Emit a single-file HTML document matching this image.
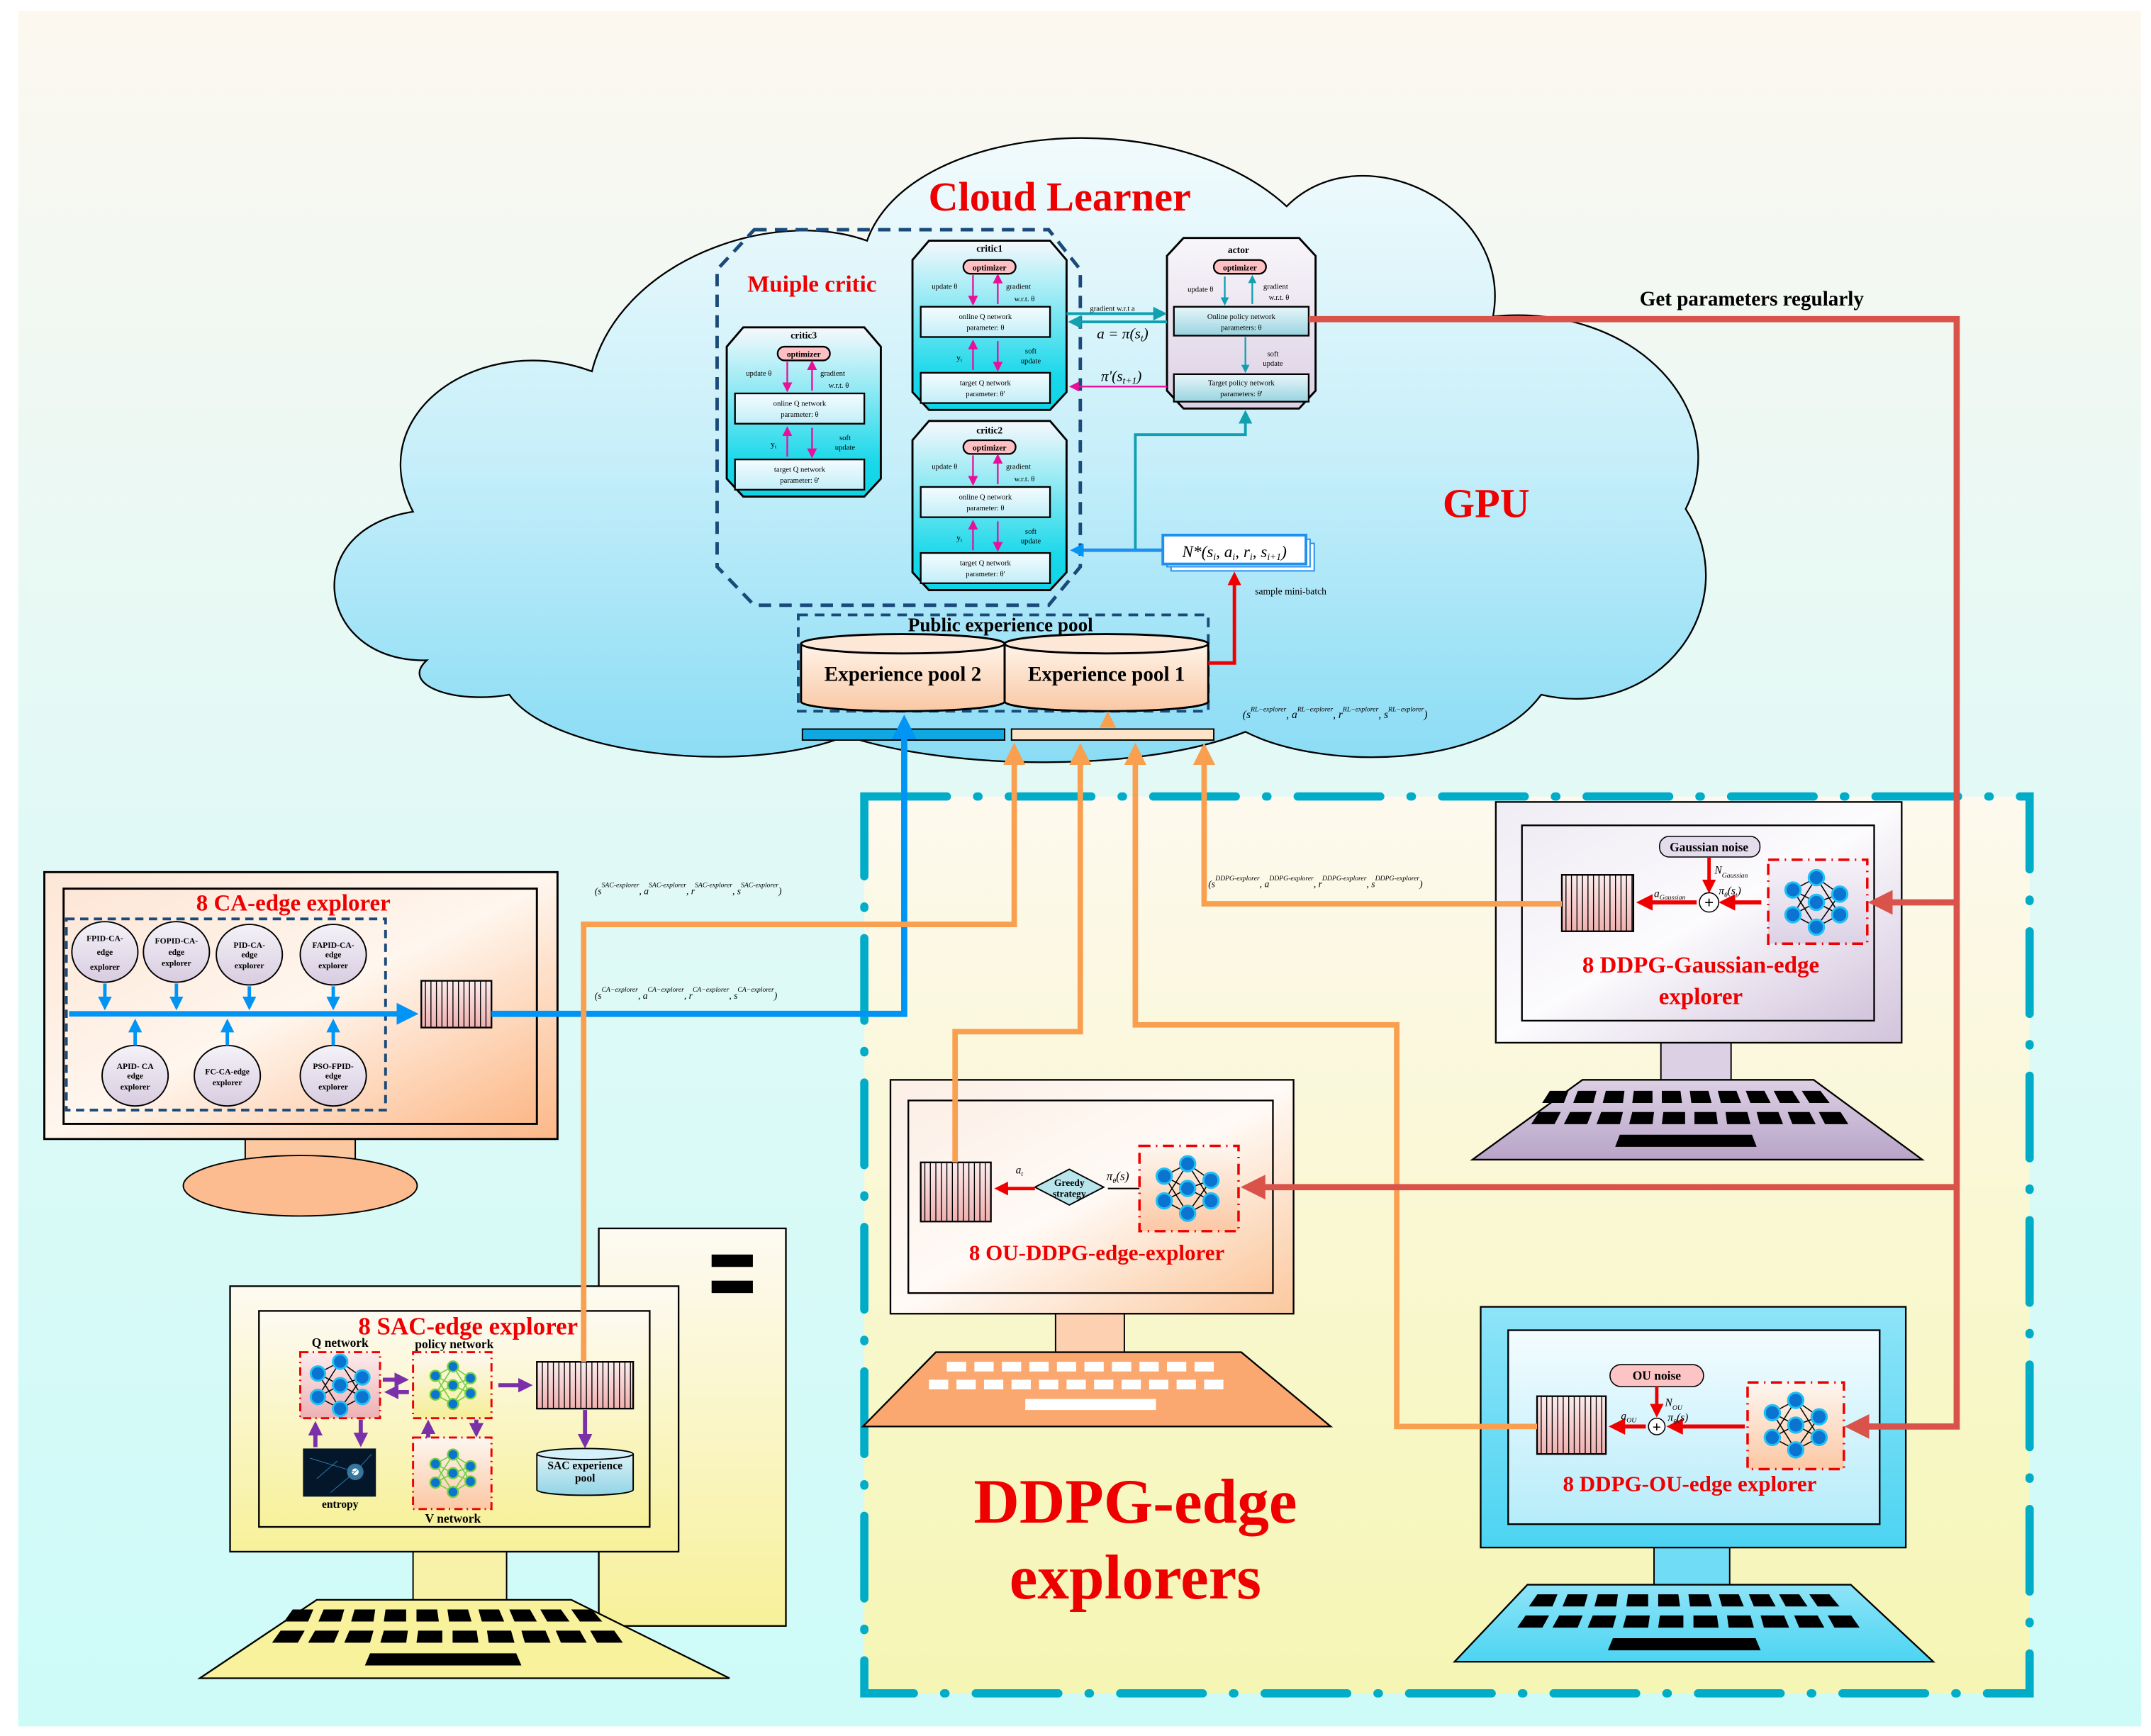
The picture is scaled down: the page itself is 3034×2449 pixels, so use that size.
<!DOCTYPE html>
<html><head><meta charset="utf-8"><style>
html,body{margin:0;padding:0;background:#fff;}
svg{display:block;}
text{font-family:"Liberation Serif",serif;}
</style></head><body>
<svg width="3034" height="2449" viewBox="0 0 1563 1262" xmlns="http://www.w3.org/2000/svg">
<defs>
<linearGradient id="bg" x1="0" y1="0" x2="0" y2="1"><stop offset="0" stop-color="#fcf8f0"/><stop offset="0.45" stop-color="#e2f9f6"/><stop offset="1" stop-color="#cdfbf8"/></linearGradient>
<linearGradient id="cloud" x1="0" y1="0" x2="0" y2="1"><stop offset="0" stop-color="#f2fbfc"/><stop offset="0.5" stop-color="#c8effa"/><stop offset="1" stop-color="#8adcf5"/></linearGradient>
<linearGradient id="ddpg" x1="0" y1="0" x2="0" y2="1"><stop offset="0" stop-color="#fdf9ee"/><stop offset="1" stop-color="#f5f6b4"/></linearGradient>
<linearGradient id="crit" x1="0" y1="0" x2="0" y2="1"><stop offset="0" stop-color="#f6f8fc"/><stop offset="0.8" stop-color="#18d8ea"/><stop offset="1" stop-color="#10d4e6"/></linearGradient>
<linearGradient id="inbox" x1="0" y1="0" x2="0" y2="1"><stop offset="0" stop-color="#f4fcff"/><stop offset="1" stop-color="#c2eef8"/></linearGradient>
<linearGradient id="actg" x1="0" y1="0" x2="0" y2="1"><stop offset="0" stop-color="#f8f6fa"/><stop offset="1" stop-color="#dcd0e4"/></linearGradient>
<linearGradient id="actbox" x1="0" y1="0" x2="0" y2="1"><stop offset="0" stop-color="#e8f6fa"/><stop offset="1" stop-color="#98d4e0"/></linearGradient>
<linearGradient id="peach" x1="0" y1="0" x2="1" y2="1"><stop offset="0" stop-color="#fde6d6"/><stop offset="0.5" stop-color="#fff6ee"/><stop offset="1" stop-color="#fcb888"/></linearGradient>
<linearGradient id="pool" x1="0" y1="0" x2="0" y2="1"><stop offset="0" stop-color="#fff4ea"/><stop offset="1" stop-color="#f9c8a4"/></linearGradient>
<linearGradient id="stripe" x1="0" y1="0" x2="0" y2="1"><stop offset="0" stop-color="#fcecec"/><stop offset="1" stop-color="#f0b0b0"/></linearGradient>
<linearGradient id="cream" x1="0" y1="0" x2="0" y2="1"><stop offset="0" stop-color="#fdfaf2"/><stop offset="1" stop-color="#f7f19a"/></linearGradient>
<linearGradient id="orangeM" x1="0" y1="0" x2="1" y2="1"><stop offset="0" stop-color="#fcefe6"/><stop offset="0.5" stop-color="#fffaf6"/><stop offset="1" stop-color="#fbc89e"/></linearGradient>
<linearGradient id="lav" x1="0" y1="0" x2="1" y2="1"><stop offset="0" stop-color="#f0ecf4"/><stop offset="0.5" stop-color="#fcfbfd"/><stop offset="1" stop-color="#d2c4dc"/></linearGradient>
<linearGradient id="lavk" x1="0" y1="0" x2="0" y2="1"><stop offset="0" stop-color="#dcd0e4"/><stop offset="1" stop-color="#b8a4c8"/></linearGradient>
<linearGradient id="blueM" x1="0" y1="0" x2="0" y2="1"><stop offset="0" stop-color="#8ee4f8"/><stop offset="1" stop-color="#4cd4f2"/></linearGradient>
<linearGradient id="blueIn" x1="0" y1="0" x2="0" y2="1"><stop offset="0" stop-color="#f4fcff"/><stop offset="1" stop-color="#b6ecfa"/></linearGradient>
<linearGradient id="ell" x1="0" y1="0" x2="0" y2="1"><stop offset="0" stop-color="#f4f2f8"/><stop offset="1" stop-color="#d8cce0"/></linearGradient>
<linearGradient id="netpink" x1="0" y1="0" x2="0" y2="1"><stop offset="0" stop-color="#fcecec"/><stop offset="1" stop-color="#eeb0b4"/></linearGradient>
<linearGradient id="netyel" x1="0" y1="0" x2="0" y2="1"><stop offset="0" stop-color="#fdf8f0"/><stop offset="1" stop-color="#f6ee98"/></linearGradient>
<linearGradient id="netpch" x1="0" y1="0" x2="0" y2="1"><stop offset="0" stop-color="#fdf6f0"/><stop offset="1" stop-color="#fcc8a4"/></linearGradient>
<linearGradient id="netlav" x1="0" y1="0" x2="0" y2="1"><stop offset="0" stop-color="#f6f2f8"/><stop offset="1" stop-color="#dcd2e6"/></linearGradient>
<linearGradient id="cyl" x1="0" y1="0" x2="0" y2="1"><stop offset="0" stop-color="#dcf2f8"/><stop offset="1" stop-color="#92d4e6"/></linearGradient>
<marker id="ab" markerWidth="4" markerHeight="4" refX="3" refY="2" orient="auto" markerUnits="strokeWidth"><path d="M0,0 L4,2 L0,4 z" fill="#0094f5"/></marker>
<marker id="ao" markerWidth="4" markerHeight="4" refX="3" refY="2" orient="auto" markerUnits="strokeWidth"><path d="M0,0 L4,2 L0,4 z" fill="#f8a050"/></marker>
<marker id="ar" markerWidth="4" markerHeight="4" refX="3" refY="2" orient="auto" markerUnits="strokeWidth"><path d="M0,0 L4,2 L0,4 z" fill="#d9534a"/></marker>
<marker id="arr" markerWidth="4" markerHeight="4" refX="3" refY="2" orient="auto" markerUnits="strokeWidth"><path d="M0,0 L4,2 L0,4 z" fill="#ee0000"/></marker>
<marker id="am" markerWidth="6" markerHeight="6" refX="5" refY="3" orient="auto" markerUnits="strokeWidth"><path d="M0,0 L6,3 L0,6 z" fill="#e8109a"/></marker>
<marker id="at" markerWidth="5" markerHeight="5" refX="4" refY="2.5" orient="auto" markerUnits="strokeWidth"><path d="M0,0 L5,2.5 L0,5 z" fill="#10a0b0"/></marker>
<marker id="ap" markerWidth="3.5" markerHeight="3.5" refX="2.5" refY="1.75" orient="auto" markerUnits="strokeWidth"><path d="M0,0 L3.5,1.75 L0,3.5 z" fill="#7a30a8"/></marker>

<g id="net">
 <g stroke="#000" stroke-width="0.8">
  <line x1="-17" y1="-9" x2="0" y2="-18"/><line x1="-17" y1="-9" x2="0" y2="0"/><line x1="-17" y1="-9" x2="0" y2="18"/>
  <line x1="-17" y1="9" x2="0" y2="-18"/><line x1="-17" y1="9" x2="0" y2="0"/><line x1="-17" y1="9" x2="0" y2="18"/>
  <line x1="17" y1="-6" x2="0" y2="-18"/><line x1="17" y1="-6" x2="0" y2="0"/><line x1="17" y1="-6" x2="0" y2="18"/>
  <line x1="17" y1="9" x2="0" y2="-18"/><line x1="17" y1="9" x2="0" y2="0"/><line x1="17" y1="9" x2="0" y2="18"/>
 </g>
 <g fill="#0a74d0" stroke="#20c0f4" stroke-width="1.6">
  <circle cx="-17" cy="-9" r="5.5"/><circle cx="-17" cy="9" r="5.5"/><circle cx="0" cy="-18" r="5.5"/><circle cx="0" cy="0" r="5.5"/><circle cx="0" cy="18" r="5.5"/><circle cx="17" cy="-6" r="5.5"/><circle cx="17" cy="9" r="5.5"/>
 </g>
</g>
<g id="gnet">
 <g stroke="#70d040" stroke-width="1">
  <line x1="-15" y1="-8" x2="0" y2="-16"/><line x1="-15" y1="-8" x2="0" y2="0"/><line x1="-15" y1="-8" x2="0" y2="16"/>
  <line x1="-15" y1="8" x2="0" y2="-16"/><line x1="-15" y1="8" x2="0" y2="0"/><line x1="-15" y1="8" x2="0" y2="16"/>
  <line x1="15" y1="-6" x2="0" y2="-16"/><line x1="15" y1="-6" x2="0" y2="0"/><line x1="15" y1="-6" x2="0" y2="16"/>
  <line x1="15" y1="7" x2="0" y2="-16"/><line x1="15" y1="7" x2="0" y2="0"/><line x1="15" y1="7" x2="0" y2="16"/>
 </g>
 <g fill="#0a74d0" stroke="#70d040" stroke-width="1.4">
  <circle cx="-15" cy="-8" r="4.5"/><circle cx="-15" cy="8" r="4.5"/><circle cx="0" cy="-16" r="4.5"/><circle cx="0" cy="0" r="4.5"/><circle cx="0" cy="16" r="4.5"/><circle cx="15" cy="-6" r="4.5"/><circle cx="15" cy="7" r="4.5"/>
 </g>
</g>
<g id="stripes">
 <g stroke="#000" stroke-width="0.7">
  <line x1="4" y1="0" x2="4" y2="100"/><line x1="8" y1="0" x2="8" y2="100"/><line x1="12" y1="0" x2="12" y2="100"/><line x1="16" y1="0" x2="16" y2="100"/><line x1="20" y1="0" x2="20" y2="100"/><line x1="24" y1="0" x2="24" y2="100"/><line x1="28" y1="0" x2="28" y2="100"/><line x1="32" y1="0" x2="32" y2="100"/><line x1="36" y1="0" x2="36" y2="100"/><line x1="40" y1="0" x2="40" y2="100"/><line x1="44" y1="0" x2="44" y2="100"/><line x1="48" y1="0" x2="48" y2="100"/><line x1="52" y1="0" x2="52" y2="100"/><line x1="56" y1="0" x2="56" y2="100"/><line x1="60" y1="0" x2="60" y2="100"/><line x1="64" y1="0" x2="64" y2="100"/><line x1="68" y1="0" x2="68" y2="100"/>
 </g>
</g>
<g id="keys">
 <g fill="#000">
  <polygon points="10,0 22,0 19,8 5,8"/><polygon points="28,0 40,0 38,8 25,8"/><polygon points="46,0 58,0 57,8 44,8"/><polygon points="64,0 76,0 76,8 63,8"/><polygon points="82,0 94,0 95,8 82,8"/><polygon points="100,0 112,0 114,8 101,8"/><polygon points="118,0 130,0 133,8 120,8"/><polygon points="136,0 148,0 152,8 139,8"/><polygon points="154,0 166,0 171,8 158,8"/><polygon points="172,0 184,0 190,8 177,8"/>
  <polygon points="3,14 17,14 13,22 -2,22"/><polygon points="23,14 37,14 34,22 19,22"/><polygon points="43,14 57,14 55,22 40,22"/><polygon points="63,14 77,14 76,22 61,22"/><polygon points="83,14 97,14 97,22 82,22"/><polygon points="103,14 117,14 118,22 103,22"/><polygon points="123,14 137,14 139,22 124,22"/><polygon points="143,14 157,14 160,22 145,22"/><polygon points="163,14 177,14 181,22 166,22"/><polygon points="183,14 197,14 202,22 187,22"/>
  <polygon points="55,29 140,29 143,37 52,37"/>
 </g>
</g>
<g id="critbody">
 <path d="M12,0 H100 L112,14 V110 L100,123 H12 L0,110 V14 Z" fill="url(#crit)" stroke="#000" stroke-width="1.5"/>
 <rect x="37" y="14" width="38" height="10" rx="5" fill="#ffc0c4" stroke="#000" stroke-width="1.2"/>
 <text x="56" y="21.5" font-size="6" font-weight="bold" text-anchor="middle">optimizer</text>
 <text x="14" y="35" font-size="5.5">update θ</text>
 <text x="68" y="35" font-size="5.5">gradient</text>
 <text x="74" y="44" font-size="5.5">w.r.t. θ</text>
 <rect x="6" y="48" width="94" height="22" fill="url(#inbox)" stroke="#000" stroke-width="1.2"/>
 <text x="53" y="57" font-size="5.5" text-anchor="middle">online Q network</text>
 <text x="53" y="65" font-size="5.5" text-anchor="middle">parameter: θ</text>
 <rect x="6" y="96" width="94" height="22" fill="url(#inbox)" stroke="#000" stroke-width="1.2"/>
 <text x="53" y="105" font-size="5.5" text-anchor="middle">target Q network</text>
 <text x="53" y="113" font-size="5.5" text-anchor="middle">parameter: θ'</text>
 <g stroke="#e8109a" stroke-width="1.2">
  <line x1="44" y1="25" x2="44" y2="46" marker-end="url(#am)"/>
  <line x1="62" y1="46" x2="62" y2="25" marker-end="url(#am)"/>
  <line x1="44" y1="94" x2="44" y2="73" marker-end="url(#am)"/>
  <line x1="62" y1="73" x2="62" y2="94" marker-end="url(#am)"/>
 </g>
 <text x="32" y="87" font-size="6">y<tspan font-size="4" dy="1">t</tspan></text>
 <text x="86" y="82" font-size="5.5" text-anchor="middle">soft</text>
 <text x="86" y="89" font-size="5.5" text-anchor="middle">update</text>
</g>
</defs>

<rect width="1563" height="1262" fill="#fff"/>
<rect x="13" y="8" width="1543" height="1247" fill="url(#bg)"/>

<!-- DDPG region -->
<rect x="628" y="579" width="847" height="652" fill="url(#ddpg)"/>
<rect x="628" y="579" width="847" height="652" fill="none" stroke="#00acc8" stroke-width="6" stroke-dasharray="60,22,1,22" stroke-linecap="round"/>
<text x="825" y="1107" font-size="46" font-weight="bold" fill="#ee0000" text-anchor="middle">DDPG-edge</text>
<text x="825" y="1162" font-size="46" font-weight="bold" fill="#ee0000" text-anchor="middle">explorers</text>

<!-- Cloud -->
<path d="M310,480 C230,482 215,385 300,372 C262,300 350,240 430,270 C450,190 560,150 630,175 C660,90 850,72 935,150 C990,95 1100,150 1085,230 C1190,220 1260,300 1225,370 C1270,440 1205,525 1120,505 C1080,560 960,560 905,532 C830,562 690,560 615,535 C540,565 400,548 370,505 C330,512 290,498 310,480 Z" fill="url(#cloud)" stroke="#000" stroke-width="1.2"/>
<text x="770" y="153" font-size="30" font-weight="bold" fill="#ee0000" text-anchor="middle">Cloud Learner</text>
<text x="1080" y="376" font-size="30" font-weight="bold" fill="#ee0000" text-anchor="middle">GPU</text>

<!-- Multiple critic -->
<path d="M548,167 H762 L785,196 V412 L762,440 H548 L521,412 V196 Z" fill="none" stroke="#1a4a7a" stroke-width="2.5" stroke-dasharray="9,6"/>
<text x="590" y="212" font-size="17" font-weight="bold" fill="#ee0000" text-anchor="middle">Muiple critic</text>

<use href="#critbody" transform="translate(663,175)"/>
<text x="719" y="183" font-size="7" font-weight="bold" text-anchor="middle">critic1</text>
<use href="#critbody" transform="translate(528,238)"/>
<text x="584" y="246" font-size="7" font-weight="bold" text-anchor="middle">critic3</text>
<use href="#critbody" transform="translate(663,306)"/>
<text x="719" y="315" font-size="7" font-weight="bold" text-anchor="middle">critic2</text>

<!-- actor -->
<path d="M860,173 H944 L956,186 V284 L944,297 H860 L848,284 V186 Z" fill="url(#actg)" stroke="#000" stroke-width="1.5"/>
<text x="900" y="184" font-size="7" font-weight="bold" text-anchor="middle">actor</text>
<rect x="882" y="189" width="38" height="10" rx="5" fill="#ffc0c4" stroke="#000" stroke-width="1.2"/>
<text x="901" y="196.5" font-size="6" font-weight="bold" text-anchor="middle">optimizer</text>
<text x="863" y="212" font-size="5.5">update θ</text>
<text x="918" y="210" font-size="5.5">gradient</text>
<text x="922" y="218" font-size="5.5">w.r.t. θ</text>
<rect x="853" y="223" width="98" height="21" fill="url(#actbox)" stroke="#000" stroke-width="1.2"/>
<text x="902" y="232" font-size="5.5" text-anchor="middle">Online policy network</text>
<text x="902" y="240" font-size="5.5" text-anchor="middle">parameters: θ</text>
<rect x="853" y="272" width="98" height="20" fill="url(#actbox)" stroke="#000" stroke-width="1.2"/>
<text x="902" y="280" font-size="5.5" text-anchor="middle">Target policy network</text>
<text x="902" y="288" font-size="5.5" text-anchor="middle">parameters: θ'</text>
<g stroke="#10a0b0" stroke-width="1.2">
 <line x1="890" y1="201" x2="890" y2="221" marker-end="url(#at)"/>
 <line x1="910" y1="221" x2="910" y2="201" marker-end="url(#at)"/>
 <line x1="905" y1="245" x2="905" y2="270" marker-end="url(#at)"/>
</g>
<text x="925" y="259" font-size="5.5" text-anchor="middle">soft</text>
<text x="925" y="266" font-size="5.5" text-anchor="middle">update</text>

<g stroke="#10a0b0" stroke-width="2">
 <line x1="775" y1="228" x2="846" y2="228" marker-end="url(#at)"/>
 <line x1="848" y1="234" x2="778" y2="234" marker-end="url(#at)"/>
</g>
<text x="792" y="226" font-size="5.5">gradient w.r.t a</text>
<text x="797" y="246" font-size="11" font-style="italic">a = π(s<tspan font-size="7" dy="2">t</tspan><tspan dy="-2">)</tspan></text>
<text x="800" y="277" font-size="11" font-style="italic">π'(s<tspan font-size="7" dy="2">t+1</tspan><tspan dy="-2">)</tspan></text>
<line x1="848" y1="281" x2="778" y2="281" stroke="#e8109a" stroke-width="1.2" marker-end="url(#am)"/>

<!-- N* box -->
<rect x="851" y="395" width="104" height="20" fill="#fff" stroke="#2090f0" stroke-width="1"/>
<rect x="848" y="392" width="104" height="20" fill="#fff" stroke="#2090f0" stroke-width="1"/>
<rect x="845" y="389" width="104" height="21" fill="#fff" stroke="#2090f0" stroke-width="2"/>
<text x="897" y="405" font-size="12" font-style="italic" text-anchor="middle">N*(s<tspan font-size="7" dy="2">i</tspan><tspan dy="-2">, a</tspan><tspan font-size="7" dy="2">i</tspan><tspan dy="-2">, r</tspan><tspan font-size="7" dy="2">i</tspan><tspan dy="-2">, s</tspan><tspan font-size="7" dy="2">i+1</tspan><tspan dy="-2">)</tspan></text>
<polyline points="825,400 825,316 905,316 905,300" fill="none" stroke="#10a0b0" stroke-width="2" marker-end="url(#at)"/>
<line x1="845" y1="400" x2="780" y2="400" stroke="#2090f0" stroke-width="2.5" marker-end="url(#ab)"/>
<text x="912" y="432" font-size="7">sample mini-batch</text>

<!-- public pool -->
<rect x="580" y="447" width="298" height="70" fill="none" stroke="#1a4a7a" stroke-width="2" stroke-dasharray="7,5"/>
<text x="727" y="459" font-size="14" font-weight="bold" text-anchor="middle">Public experience pool</text>
<path d="M582,468 V510 A74,7 0 0 0 730,510 V468" fill="url(#pool)" stroke="#000" stroke-width="1.5"/>
<ellipse cx="656" cy="468" rx="74" ry="7" fill="#fde8d8" stroke="#000" stroke-width="1.5"/>
<path d="M730,468 V510 A74,7 0 0 0 878,510 V468" fill="url(#pool)" stroke="#000" stroke-width="1.5"/>
<ellipse cx="804" cy="468" rx="74" ry="7" fill="#fde8d8" stroke="#000" stroke-width="1.5"/>
<text x="656" y="495" font-size="15" font-weight="bold" text-anchor="middle">Experience pool 2</text>
<text x="804" y="495" font-size="15" font-weight="bold" text-anchor="middle">Experience pool 1</text>
<rect x="583" y="530" width="147" height="8" fill="#10a8e0" stroke="#000" stroke-width="1"/>
<rect x="735" y="530" width="147" height="8" fill="#fde4c8" stroke="#000" stroke-width="1"/>
<polyline points="878,482 897,482 897,418" fill="none" stroke="#ee0000" stroke-width="2.5" marker-end="url(#arr)"/>
<text x="903" y="522" font-size="8" font-style="italic">(s<tspan font-size="5" dy="-5">RL−explorer</tspan><tspan dy="5">, a</tspan><tspan font-size="5" dy="-5">RL−explorer</tspan><tspan dy="5">, r</tspan><tspan font-size="5" dy="-5">RL−explorer</tspan><tspan dy="5">, s</tspan><tspan font-size="5" dy="-5">RL−explorer</tspan><tspan dy="5">)</tspan></text>

<text x="1273" y="222" font-size="15" font-weight="bold" text-anchor="middle">Get parameters regularly</text>

<!-- CA monitor -->
<rect x="178" y="826" width="80" height="28" fill="#fcc8a0" stroke="#000" stroke-width="1"/>
<ellipse cx="218" cy="862" rx="85" ry="22" fill="#fcbc90" stroke="#000" stroke-width="1"/>
<rect x="32" y="634" width="373" height="194" fill="url(#peach)" stroke="#000" stroke-width="1.5"/>
<rect x="46" y="646" width="344" height="171" fill="url(#peach)" stroke="#000" stroke-width="1.5"/>
<text x="213" y="662" font-size="17" font-weight="bold" fill="#ee0000" text-anchor="middle">8 CA-edge explorer</text>
<rect x="48" y="668" width="232" height="139" fill="none" stroke="#1a4a7a" stroke-width="2" stroke-dasharray="6,4"/>
<g fill="url(#ell)" stroke="#000" stroke-width="1">
 <ellipse cx="76" cy="692" rx="24" ry="22"/><ellipse cx="128" cy="692" rx="24" ry="22"/><ellipse cx="181" cy="694" rx="24" ry="22"/><ellipse cx="242" cy="694" rx="24" ry="22"/>
 <ellipse cx="98" cy="782" rx="24" ry="22"/><ellipse cx="165" cy="782" rx="24" ry="22"/><ellipse cx="242" cy="782" rx="24" ry="22"/>
</g>
<g font-size="6" font-weight="bold" text-anchor="middle">
 <text x="76" y="684">FPID-CA-</text><text x="76" y="694">edge</text><text x="76" y="705">explorer</text>
 <text x="128" y="686">FOPID-CA-</text><text x="128" y="694">edge</text><text x="128" y="702">explorer</text>
 <text x="181" y="689">PID-CA-</text><text x="181" y="696">edge</text><text x="181" y="704">explorer</text>
 <text x="242" y="689">FAPID-CA-</text><text x="242" y="696">edge</text><text x="242" y="704">explorer</text>
 <text x="98" y="777">APID- CA</text><text x="98" y="784">edge</text><text x="98" y="792">explorer</text>
 <text x="165" y="781">FC-CA-edge</text><text x="165" y="789">explorer</text>
 <text x="242" y="777">PSO-FPID-</text><text x="242" y="784">edge</text><text x="242" y="792">explorer</text>
</g>
<g stroke="#0094f5" stroke-width="2.5">
 <line x1="76" y1="715" x2="76" y2="732" marker-end="url(#ab)"/><line x1="128" y1="715" x2="128" y2="732" marker-end="url(#ab)"/><line x1="181" y1="717" x2="181" y2="732" marker-end="url(#ab)"/><line x1="242" y1="717" x2="242" y2="732" marker-end="url(#ab)"/>
 <line x1="98" y1="760" x2="98" y2="743" marker-end="url(#ab)"/><line x1="165" y1="760" x2="165" y2="743" marker-end="url(#ab)"/><line x1="242" y1="760" x2="242" y2="743" marker-end="url(#ab)"/>
 <line x1="50" y1="737" x2="300" y2="737" stroke-width="4" marker-end="url(#ab)"/>
</g>
<rect x="306" y="713" width="51" height="34" fill="url(#stripe)"/>
<svg x="306" y="713" width="51" height="34" viewBox="0 0 51 34" overflow="hidden"><use href="#stripes" transform="translate(-1,0)"/></svg>
<rect x="306" y="713" width="51" height="34" fill="none" stroke="#000" stroke-width="1.2"/>
<text x="432" y="650" font-size="7" font-style="italic">(s<tspan font-size="5" dy="-5">SAC-explorer</tspan><tspan dy="5">, a</tspan><tspan font-size="5" dy="-5">SAC-explorer</tspan><tspan dy="5">, r</tspan><tspan font-size="5" dy="-5">SAC-explorer</tspan><tspan dy="5">, s</tspan><tspan font-size="5" dy="-5">SAC-explorer</tspan><tspan dy="5">)</tspan></text>
<text x="432" y="726" font-size="7" font-style="italic">(s<tspan font-size="5" dy="-5">CA−explorer</tspan><tspan dy="5">, a</tspan><tspan font-size="5" dy="-5">CA−explorer</tspan><tspan dy="5">, r</tspan><tspan font-size="5" dy="-5">CA−explorer</tspan><tspan dy="5">, s</tspan><tspan font-size="5" dy="-5">CA−explorer</tspan><tspan dy="5">)</tspan></text>

<!-- SAC tower and monitor -->
<rect x="435" y="893" width="136" height="289" fill="url(#cream)" stroke="#000" stroke-width="1.2"/>
<rect x="517" y="912" width="30" height="9" fill="#000"/><rect x="517" y="931" width="30" height="9" fill="#000"/>
<rect x="300" y="1126" width="68" height="38" fill="#f8f2a8" stroke="#000" stroke-width="1"/>
<polygon points="230,1163 415,1163 530,1220 145,1220" fill="#f8f29c" stroke="#000" stroke-width="1.2"/>
<use href="#keys" transform="translate(200,1170) scale(1.25,1.1)"/>
<rect x="167" y="935" width="326" height="193" fill="url(#cream)" stroke="#000" stroke-width="1.2"/>
<rect x="188" y="953" width="284" height="157" fill="url(#cream)" stroke="#000" stroke-width="1.2"/>
<text x="340" y="970" font-size="18" font-weight="bold" fill="#ee0000" text-anchor="middle">8 SAC-edge explorer</text>
<text x="247" y="979" font-size="9" font-weight="bold" text-anchor="middle">Q network</text>
<text x="330" y="980" font-size="9" font-weight="bold" text-anchor="middle">policy network</text>
<rect x="218" y="983" width="58" height="48" fill="url(#netpink)" stroke="#ee0000" stroke-width="1.5" stroke-dasharray="6,3,1,3"/>
<use href="#net" transform="translate(247,1007) scale(0.95)"/>
<rect x="300" y="983" width="57" height="48" fill="url(#netyel)" stroke="#ee0000" stroke-width="1.5" stroke-dasharray="6,3,1,3"/>
<use href="#gnet" transform="translate(329,1007) scale(0.85)"/>
<rect x="300" y="1045" width="57" height="52" fill="url(#netpch)" stroke="#ee0000" stroke-width="1.5" stroke-dasharray="6,3,1,3"/>
<use href="#gnet" transform="translate(329,1071) scale(0.85)"/>
<text x="329" y="1107" font-size="9" font-weight="bold" text-anchor="middle">V network</text>
<rect x="220" y="1053" width="53" height="35" fill="#04162a"/>
<circle cx="258" cy="1070" r="6" fill="#5ab8e8" opacity="0.6"/><circle cx="258" cy="1070" r="2.5" fill="#fff"/>
<g stroke="#2a7ab0" stroke-width="0.5"><line x1="225" y1="1060" x2="258" y2="1070"/><line x1="240" y1="1085" x2="258" y2="1070"/><line x1="270" y1="1057" x2="258" y2="1070"/><line x1="230" y1="1075" x2="245" y2="1062"/></g>
<text x="247" y="1096" font-size="8" font-weight="bold" text-anchor="middle">entropy</text>
<rect x="390" y="990" width="70" height="34" fill="url(#stripe)"/>
<svg x="390" y="990" width="70" height="34" viewBox="0 0 70 34" overflow="hidden"><use href="#stripes"/></svg>
<rect x="390" y="990" width="70" height="34" fill="none" stroke="#000" stroke-width="1.2"/>
<path d="M390,1057 V1083 A35,4 0 0 0 460,1083 V1057" fill="url(#cyl)" stroke="#000" stroke-width="1"/>
<ellipse cx="425" cy="1057" rx="35" ry="4" fill="#d4f0f8" stroke="#000" stroke-width="1"/>
<text x="425" y="1068" font-size="8" font-weight="bold" text-anchor="middle">SAC experience</text>
<text x="425" y="1077" font-size="8" font-weight="bold" text-anchor="middle">pool</text>
<g stroke="#7a30a8" stroke-width="3">
 <line x1="278" y1="1003" x2="294" y2="1003" marker-end="url(#ap)"/>
 <line x1="297" y1="1012" x2="282" y2="1012" marker-end="url(#ap)"/>
 <line x1="362" y1="1007" x2="384" y2="1007" marker-end="url(#ap)"/>
 <line x1="425" y1="1025" x2="425" y2="1050" marker-end="url(#ap)"/>
 <line x1="229" y1="1052" x2="229" y2="1036" marker-end="url(#ap)"/>
 <line x1="262" y1="1032" x2="262" y2="1049" marker-end="url(#ap)"/>
 <line x1="311" y1="1045" x2="311" y2="1035" marker-end="url(#ap)"/>
 <line x1="346" y1="1032" x2="346" y2="1042" marker-end="url(#ap)"/>
</g>

<!-- OU-DDPG monitor -->
<rect x="767" y="953" width="50" height="32" fill="#fcd0b0" stroke="#000" stroke-width="1"/>
<polygon points="680,983 902,983 967,1037 627,1037" fill="#fba870" stroke="#000" stroke-width="1.2"/>
<g fill="#fff">
 <rect x="688" y="990" width="14" height="7"/><rect x="708" y="990" width="14" height="7"/><rect x="728" y="990" width="14" height="7"/><rect x="748" y="990" width="14" height="7"/><rect x="768" y="990" width="14" height="7"/><rect x="788" y="990" width="14" height="7"/><rect x="808" y="990" width="14" height="7"/><rect x="828" y="990" width="14" height="7"/><rect x="848" y="990" width="14" height="7"/><rect x="868" y="990" width="14" height="7"/>
 <rect x="675" y="1003" width="14" height="7"/><rect x="695" y="1003" width="14" height="7"/><rect x="715" y="1003" width="14" height="7"/><rect x="735" y="1003" width="14" height="7"/><rect x="755" y="1003" width="14" height="7"/><rect x="775" y="1003" width="14" height="7"/><rect x="795" y="1003" width="14" height="7"/><rect x="815" y="1003" width="14" height="7"/><rect x="835" y="1003" width="14" height="7"/><rect x="855" y="1003" width="14" height="7"/><rect x="875" y="1003" width="14" height="7"/>
 <rect x="745" y="1017" width="95" height="8"/>
</g>
<rect x="647" y="785" width="293" height="170" fill="url(#orangeM)" stroke="#000" stroke-width="1.2"/>
<rect x="660" y="800" width="265" height="140" fill="url(#orangeM)" stroke="#000" stroke-width="1.2"/>
<rect x="669" y="845" width="51" height="43" fill="url(#stripe)"/>
<svg x="669" y="845" width="51" height="43" viewBox="0 0 51 43" overflow="hidden"><use href="#stripes" transform="translate(-1,0)"/></svg>
<rect x="669" y="845" width="51" height="43" fill="none" stroke="#000" stroke-width="1.2"/>
<polygon points="777,850 802,863 777,876 752,863" fill="#b8e4ec" stroke="#000" stroke-width="1"/>
<text x="777" y="862" font-size="7" font-weight="bold" text-anchor="middle">Greedy</text>
<text x="777" y="870" font-size="7" font-weight="bold" text-anchor="middle">strategy</text>
<line x1="752" y1="864" x2="725" y2="864" stroke="#ee0000" stroke-width="2.5" marker-end="url(#arr)"/>
<line x1="828" y1="864" x2="805" y2="864" stroke="#000" stroke-width="1"/>
<text x="738" y="853" font-size="8" font-style="italic">a<tspan font-size="5" dy="2">t</tspan></text>
<text x="804" y="858" font-size="9" font-style="italic">π<tspan font-size="5" dy="2">θ</tspan><tspan dy="-2">(s)</tspan></text>
<rect x="828" y="833" width="72" height="62" fill="url(#netpch)" stroke="#ee0000" stroke-width="1.8" stroke-dasharray="8,4,1,4"/>
<use href="#net" transform="translate(863,864)"/>
<text x="797" y="916" font-size="16" font-weight="bold" fill="#ee0000" text-anchor="middle">8 OU-DDPG-edge-explorer</text>

<!-- Gaussian monitor -->
<rect x="1207" y="756" width="51" height="31" fill="#dcd0e4" stroke="#000" stroke-width="1"/>
<polygon points="1150,785 1318,785 1397,843 1070,843" fill="url(#lavk)" stroke="#000" stroke-width="1.2"/>
<use href="#keys" transform="translate(1115,793) scale(1.13,1.1)"/>
<rect x="1087" y="583" width="295" height="175" fill="url(#lav)" stroke="#000" stroke-width="1.2"/>
<rect x="1106" y="600" width="256" height="142" fill="url(#lav)" stroke="#000" stroke-width="1.2"/>
<rect x="1206" y="608" width="73" height="15" rx="7" fill="#e4dcec" stroke="#000" stroke-width="0.8"/>
<text x="1242" y="619" font-size="9" font-weight="bold" text-anchor="middle">Gaussian noise</text>
<rect x="1135" y="636" width="52" height="41" fill="url(#stripe)"/>
<svg x="1135" y="636" width="52" height="41" viewBox="0 0 52 41" overflow="hidden"><use href="#stripes" transform="translate(-1,0)"/></svg>
<rect x="1135" y="636" width="52" height="41" fill="none" stroke="#000" stroke-width="1.2"/>
<line x1="1242" y1="623" x2="1242" y2="647" stroke="#ee0000" stroke-width="2.5" marker-end="url(#arr)"/>
<line x1="1280" y1="656" x2="1252" y2="656" stroke="#ee0000" stroke-width="3" marker-end="url(#arr)"/>
<line x1="1233" y1="656" x2="1192" y2="656" stroke="#ee0000" stroke-width="3" marker-end="url(#arr)"/>
<circle cx="1242" cy="656" r="7" fill="#fff" stroke="#000" stroke-width="0.8"/>
<text x="1242" y="660" font-size="12" font-weight="bold" text-anchor="middle">+</text>
<text x="1246" y="635" font-size="8" font-style="italic">N<tspan font-size="5" dy="3">Gaussian</tspan></text>
<text x="1249" y="650" font-size="8" font-style="italic">π<tspan font-size="5" dy="2">θ</tspan><tspan dy="-2">(s</tspan><tspan font-size="5" dy="2">t</tspan><tspan dy="-2">)</tspan></text>
<text x="1202" y="652" font-size="8" font-style="italic">a<tspan font-size="5" dy="2">Gaussian</tspan></text>
<rect x="1285" y="625" width="72" height="61" fill="url(#netlav)" stroke="#ee0000" stroke-width="1.8" stroke-dasharray="8,4,1,4"/>
<use href="#net" transform="translate(1320,656)"/>
<text x="1236" y="707" font-size="17" font-weight="bold" fill="#ee0000" text-anchor="middle">8 DDPG-Gaussian-edge</text>
<text x="1236" y="730" font-size="17" font-weight="bold" fill="#ee0000" text-anchor="middle">explorer</text>

<!-- DDPG-OU monitor -->
<rect x="1202" y="1123" width="55" height="31" fill="#70dcf6" stroke="#000" stroke-width="1"/>
<polygon points="1110,1152 1345,1152 1405,1208 1057,1208" fill="url(#blueM)" stroke="#000" stroke-width="1.2"/>
<use href="#keys" transform="translate(1105,1159) scale(1.22,1.1)"/>
<rect x="1076" y="950" width="309" height="175" fill="url(#blueM)" stroke="#000" stroke-width="1.2"/>
<rect x="1096" y="967" width="270" height="141" fill="url(#blueIn)" stroke="#000" stroke-width="1.2"/>
<rect x="1170" y="992" width="68" height="16" rx="8" fill="#fcc4c4" stroke="#000" stroke-width="0.8"/>
<text x="1204" y="1003" font-size="9" font-weight="bold" text-anchor="middle">OU noise</text>
<rect x="1117" y="1015" width="50" height="42" fill="url(#stripe)"/>
<svg x="1117" y="1015" width="50" height="42" viewBox="0 0 50 42" overflow="hidden"><use href="#stripes" transform="translate(-1,0)"/></svg>
<rect x="1117" y="1015" width="50" height="42" fill="none" stroke="#000" stroke-width="1.2"/>
<line x1="1204" y1="1008" x2="1204" y2="1028" stroke="#ee0000" stroke-width="2.5" marker-end="url(#arr)"/>
<line x1="1268" y1="1037" x2="1214" y2="1037" stroke="#ee0000" stroke-width="3" marker-end="url(#arr)"/>
<line x1="1196" y1="1037" x2="1172" y2="1037" stroke="#ee0000" stroke-width="3" marker-end="url(#arr)"/>
<circle cx="1204" cy="1037" r="6" fill="#fff" stroke="#000" stroke-width="0.8"/>
<text x="1204" y="1041" font-size="11" font-weight="bold" text-anchor="middle">+</text>
<text x="1210" y="1022" font-size="8" font-style="italic">N<tspan font-size="5" dy="3">OU</tspan></text>
<text x="1212" y="1033" font-size="8" font-style="italic">π<tspan font-size="5" dy="2">θ</tspan><tspan dy="-2">(s)</tspan></text>
<text x="1178" y="1032" font-size="8" font-style="italic">a<tspan font-size="5" dy="2">OU</tspan></text>
<rect x="1270" y="1005" width="70" height="63" fill="url(#netpch)" stroke="#ee0000" stroke-width="1.8" stroke-dasharray="8,4,1,4"/>
<use href="#net" transform="translate(1305,1036)"/>
<text x="1228" y="1084" font-size="16" font-weight="bold" fill="#ee0000" text-anchor="middle">8 DDPG-OU-edge explorer</text>

<!-- Blue CA line -->
<polyline points="357,737 657,737 657,524" fill="none" stroke="#0094f5" stroke-width="4.5" marker-end="url(#ab)"/>

<!-- Orange lines -->
<g fill="none" stroke="#f8a050" stroke-width="4">
 <polyline points="424,990 424,672 737,672 737,544" marker-end="url(#ao)"/>
 <polyline points="694,845 694,750 785,750 785,544" marker-end="url(#ao)"/>
 <polyline points="1117,1037 1015,1037 1015,745 825,745 825,544" marker-end="url(#ao)"/>
 <polyline points="1135,657 875,657 875,544" marker-end="url(#ao)"/>
 <line x1="805" y1="528" x2="805" y2="520" marker-end="url(#ao)" stroke-width="3"/>
</g>
<text x="878" y="645" font-size="7" font-style="italic">(s<tspan font-size="5" dy="-5">DDPG-explorer</tspan><tspan dy="5">, a</tspan><tspan font-size="5" dy="-5">DDPG-explorer</tspan><tspan dy="5">, r</tspan><tspan font-size="5" dy="-5">DDPG-explorer</tspan><tspan dy="5">, s</tspan><tspan font-size="5" dy="-5">DDPG-explorer</tspan><tspan dy="5">)</tspan></text>

<!-- Red parameter lines -->
<g fill="none" stroke="#d9534a" stroke-width="4.5">
 <polyline points="951,232 1422,232 1422,1037 1345,1037" marker-end="url(#ar)"/>
 <line x1="1422" y1="656" x2="1362" y2="656" marker-end="url(#ar)"/>
 <line x1="1422" y1="863" x2="906" y2="863" marker-end="url(#ar)"/>
</g>
</svg>
</body></html>
